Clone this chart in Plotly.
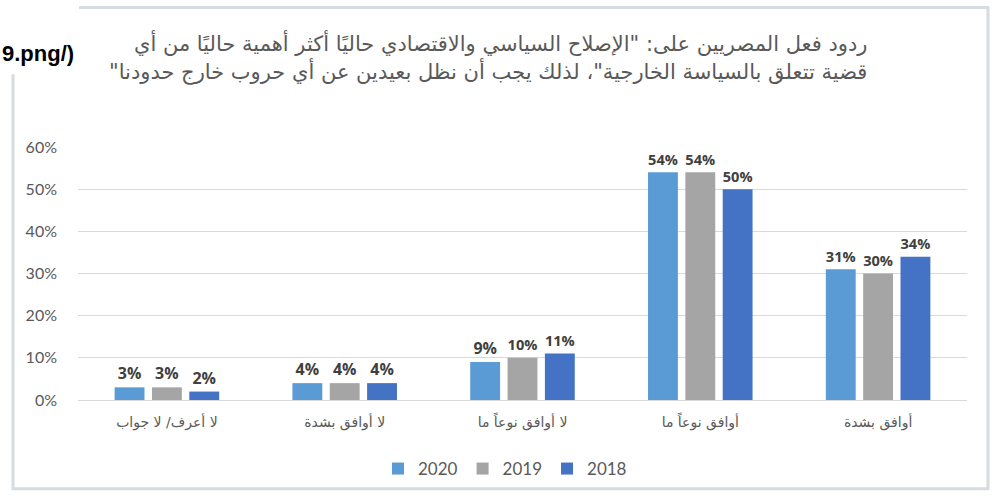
import plotly.graph_objects as go

categories = ["لا أعرف/ لا جواب", "لا أوافق بشدة", "لا أوافق نوعاً ما", "أوافق نوعاً ما", "أوافق بشدة"]
years = ["2020", "2019", "2018"]
values_2020 = [3, 4, 9, 54, 31]
values_2019 = [3, 4, 10, 54, 30]
values_2018 = [2, 4, 11, 50, 34]
tick_vals = [0, 10, 20, 30, 40, 50, 60]
tick_text = ["0%", "10%", "20%", "30%", "40%", "50%", "60%"]
title_line1 = 'ردود فعل المصريين على: "الإصلاح السياسي والاقتصادي حاليًا أكثر أهمية حاليًا من أي'
title_line2 = 'قضية تتعلق بالسياسة الخارجية"، لذلك يجب أن نظل بعيدين عن أي حروب خارج حدودنا"'
fragment = "9.png/)"

series = [values_2020, values_2019, values_2018]
colors = ["#5B9BD5", "#A5A5A5", "#4472C4"]

W, H = 996, 498
L, R, T, B = 78, 967, 147, 401
RLM = "\u200f"
LRM = "\u200e"

def px(x):
    return (x - L) / (R - L)

def py(y):
    return (B - y) / (B - T)

fig = go.Figure()
for name, vals, col in zip(years, series, colors):
    fig.add_trace(go.Bar(
        x=categories, y=vals, name=name,
        marker=dict(color=col, line=dict(width=0)),
        text=[f"{v}%" for v in vals], textposition="outside",
        textfont=dict(family="Open Sans", size=16, color="#404040", weight="bold"),
        cliponaxis=False,
    ))

fig.update_layout(
    width=W, height=H,
    margin=dict(l=L, r=W - R, t=T, b=H - B),
    paper_bgcolor="white", plot_bgcolor="white",
    barmode="group", bargap=0.37, bargroupgap=0.2,
    showlegend=True,
    legend=dict(orientation="h", x=px(505), y=py(469), xanchor="center", yanchor="middle",
                font=dict(family="Lato", size=17, color="#595959"), traceorder="normal",
                itemwidth=30),
    xaxis=dict(showgrid=False, showline=False, ticks="", ticklabelstandoff=12,
               tickfont=dict(family="DejaVu Sans", size=14, color="#595959")),
    yaxis=dict(range=[0, 60], tickvals=tick_vals, ticktext=tick_text,
               showgrid=True, gridcolor="#D9D9D9", gridwidth=1,
               zeroline=True, zerolinecolor="#D9D9D9", zerolinewidth=1,
               showline=False, ticks="", ticklabelstandoff=20,
               tickfont=dict(family="Lato", size=16, color="#595959")),
    font=dict(family="Lato"),
)

fig.add_shape(type="rect", xref="paper", yref="paper",
              x0=px(13), x1=px(988), y0=py(490), y1=py(7),
              line=dict(color="#D6DCE2", width=3), fillcolor="rgba(0,0,0,0)", layer="below")
fig.add_shape(type="rect", xref="paper", yref="paper",
              x0=px(-5), x1=px(79), y0=py(74), y1=py(-5),
              line=dict(width=0), fillcolor="white", layer="above")

fig.add_annotation(xref="paper", yref="paper", x=px(869), y=py(43), xanchor="right", yanchor="middle",
                   text=RLM + title_line1 + RLM, showarrow=False, align="right",
                   font=dict(family="DejaVu Sans", size=21, color="#595959"))
fig.add_annotation(xref="paper", yref="paper", x=px(869), y=py(71), xanchor="right", yanchor="middle",
                   text=RLM + title_line2 + RLM, showarrow=False, align="right",
                   font=dict(family="DejaVu Sans", size=21, color="#595959"))
fig.add_annotation(xref="paper", yref="paper", x=px(0), y=py(53), xanchor="left", yanchor="middle",
                   text=LRM + fragment + LRM, showarrow=False,
                   font=dict(family="Liberation Sans", size=22, color="black", weight="bold"))

fig.write_html("out.html")
